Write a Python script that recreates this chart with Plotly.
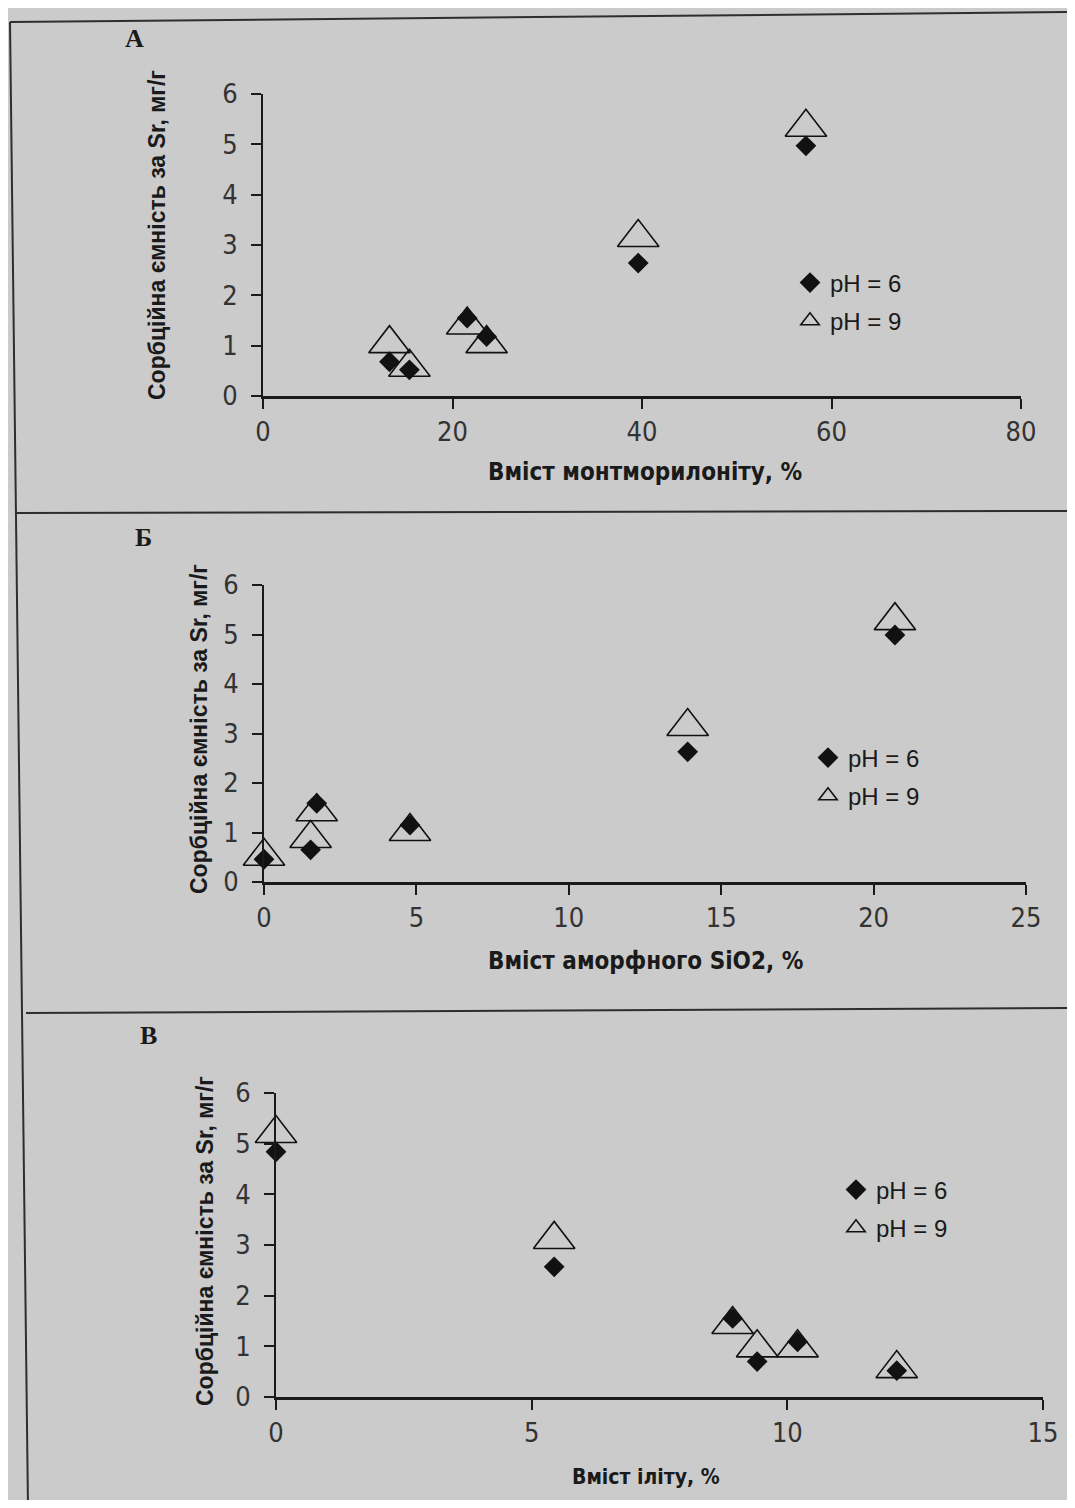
import plotly.graph_objects as go

# ---------------- data ----------------
# Panel A: montmorillonite content, %
a_x = [13.35, 15.45, 21.55, 23.6, 39.6, 57.3]
a_ph6 = [0.68, 0.52, 1.55, 1.18, 2.64, 4.97]
a_ph9 = [1.04, 0.57, 1.41, 1.04, 3.15, 5.34]

# Panel B: amorphous SiO2 content, %
b_x = [0.0, 1.53, 1.73, 4.79, 13.9, 20.7]
b_ph6 = [0.46, 0.65, 1.59, 1.15, 2.63, 4.99]
b_ph9 = [0.52, 0.88, 1.42, 1.02, 3.14, 5.28]

# Panel C: illite content, %
c_x = [0.0, 5.44, 8.93, 9.41, 10.2, 12.14]
c_ph6 = [4.84, 2.57, 1.55, 0.70, 1.09, 0.52]
c_ph9 = [5.20, 3.11, 1.43, 0.97, 0.97, 0.56]

panel_letters = ["А", "Б", "В"]
x_titles = ["Вміст монтморилоніту, %", "Вміст аморфного SiO2, %", "Вміст іліту, %"]
y_title = "Сорбційна ємність за Sr, мг/г"
legend_names = ["pH = 6", "pH = 9"]
x_ranges = [(0, 80, 20), (0, 25, 5), (0, 15, 5)]
y_ticks = [0, 1, 2, 3, 4, 5, 6]

# ---------------- page geometry ----------------
PAGE_W, PAGE_H, BODY = 1075, 1508, 8
W, H = PAGE_W - 2 * BODY, PAGE_H - 2 * BODY

def px(x):
    return (x - BODY) / W

def py(y):
    return 1 - (y - BODY) / H

BG = "#cbcbcb"
INK = "#1a1a1a"
NARROW = "DejaVu Sans Condensed, Liberation Sans Narrow, Arial Narrow, Liberation Sans, sans-serif"
SANS = "Liberation Sans, Arial, sans-serif"
SERIF = "Liberation Serif, Times New Roman, serif"

# plot areas in page pixels: (x_left, x_right, y_top(=6), y_bottom(=0))
geo = [
    (263, 1021, 94, 396),
    (264, 1026, 585, 882),
    (276, 1043, 1093, 1397),
]
legend_pos = [(790, 302), (808, 777), (836, 1209)]
x_title_pos = [(645, 472), (645, 961), (646, 1477)]
x_title_size = [24, 24, 21]
y_title_pos = [(157, 235), (199, 729), (205, 1241)]
letter_pos = [(134, 39), (143, 537), (148, 1035)]

fig = go.Figure()
data = [(a_x, a_ph6, a_ph9), (b_x, b_ph6, b_ph9), (c_x, c_ph6, c_ph9)]

for i, (xs, y6, y9) in enumerate(data):
    sfx = "" if i == 0 else str(i + 1)
    leg = "legend" if i == 0 else f"legend{i+1}"
    fig.add_trace(go.Scatter(
        x=xs, y=y6, mode="markers", name=legend_names[0],
        xaxis="x" + sfx, yaxis="y" + sfx, legend=leg, legendgroup=f"g6_{i}",
        marker=dict(symbol="diamond", size=16, color="#111111", line=dict(width=0)),
        cliponaxis=False,
    ))
    fig.add_trace(go.Scatter(
        x=xs, y=y9, mode="markers", name=legend_names[1],
        xaxis="x" + sfx, yaxis="y" + sfx, legend=leg, legendgroup=f"g9_{i}",
        marker=dict(symbol="triangle-up-open", size=36, color="#111111",
                    line=dict(width=1.6, color="#111111")),
        cliponaxis=False,
    ))

layout = dict(
    width=W, height=H,
    margin=dict(l=0, r=0, t=0, b=0, pad=0, autoexpand=False),
    paper_bgcolor=BG, plot_bgcolor="rgba(0,0,0,0)",
    showlegend=True,
    font=dict(family=NARROW, color=INK),
)

for i, (x0, x1, yt, yb) in enumerate(geo):
    sfx = "" if i == 0 else str(i + 1)
    lo, hi, dt = x_ranges[i]
    layout["xaxis" + sfx] = dict(
        domain=[px(x0), px(x1)], range=[lo, hi], dtick=dt, tick0=0,
        anchor="y" + sfx, showgrid=False, zeroline=False, automargin=False,
        showline=True, linecolor=INK, linewidth=2.5,
        ticks="outside", ticklen=10, tickwidth=1.5, tickcolor=INK,
        ticklabelstandoff=0,
        tickfont=dict(family=NARROW, size=27, color="#333333"),
        fixedrange=True,
    )
    layout["yaxis" + sfx] = dict(
        domain=[py(yb), py(yt)], range=[0, 6], tickvals=y_ticks,
        anchor="x" + sfx, showgrid=False, zeroline=False, automargin=False,
        showline=True, linecolor=INK, linewidth=1.6,
        ticks="outside", ticklen=10, tickwidth=1.5, tickcolor=INK,
        ticklabelstandoff=8,
        tickfont=dict(family=NARROW, size=27, color="#333333"),
        fixedrange=True,
    )
    leg = "legend" if i == 0 else f"legend{i+1}"
    lx, ly = legend_pos[i]
    layout[leg] = dict(
        x=px(lx), y=py(ly), xanchor="left", yanchor="middle",
        bgcolor="rgba(0,0,0,0)", borderwidth=0,
        font=dict(family=SANS, size=24, color=INK),
        itemwidth=30, traceorder="grouped", tracegroupgap=4,
    )

annotations = []
for i in range(3):
    annotations.append(dict(
        text=f"<b>{x_titles[i]}</b>", x=px(x_title_pos[i][0]), y=py(x_title_pos[i][1]),
        xref="paper", yref="paper", showarrow=False, xanchor="center", yanchor="middle",
        font=dict(family=NARROW, size=x_title_size[i], color=INK),
    ))
    annotations.append(dict(
        text=f"<b>{y_title}</b>", x=px(y_title_pos[i][0]), y=py(y_title_pos[i][1]),
        xref="paper", yref="paper", showarrow=False, textangle=-90,
        xanchor="center", yanchor="middle",
        font=dict(family=SANS, size=23, color=INK),
    ))
    annotations.append(dict(
        text=f"<b>{panel_letters[i]}</b>", x=px(letter_pos[i][0]), y=py(letter_pos[i][1]),
        xref="paper", yref="paper", showarrow=False, xanchor="center", yanchor="middle",
        font=dict(family=SERIF, size=26, color=INK),
    ))

shapes = []
for (xa, ya, xb, yb) in [(10, 22, 1075, 12), (16, 513, 1075, 511), (26, 1013, 1075, 1008),
                         (10, 22, 28, 1508)]:
    shapes.append(dict(type="line", xref="paper", yref="paper",
                       x0=px(xa), y0=py(ya), x1=px(xb), y1=py(yb),
                       line=dict(color="#2e2e2e", width=2)))

layout["annotations"] = annotations
layout["shapes"] = shapes
fig.update_layout(**layout)

fig.write_html("out.html")
